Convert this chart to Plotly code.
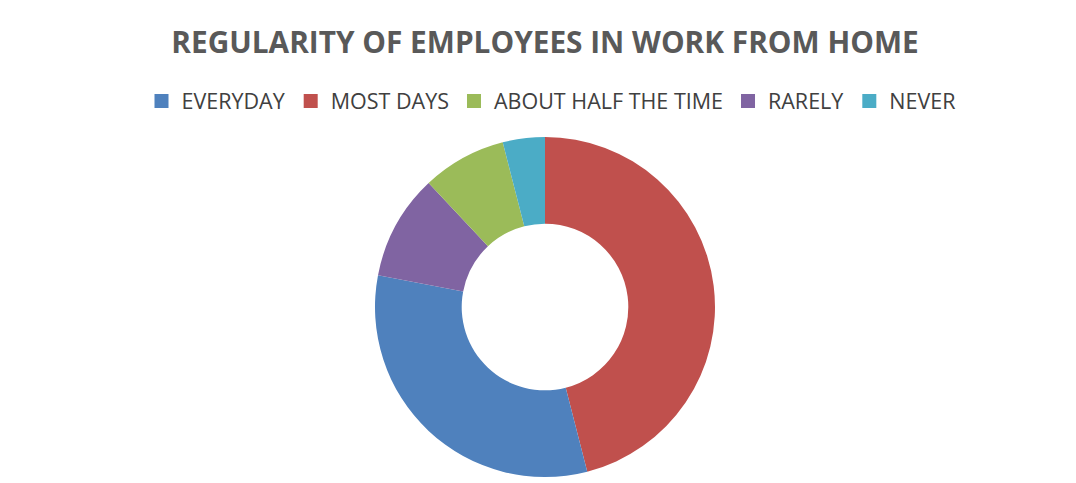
import plotly.graph_objects as go

# Slice order as drawn clockwise from 12 o'clock
slice_labels = ["MOST DAYS", "EVERYDAY", "RARELY", "ABOUT HALF THE TIME", "NEVER"]
slice_values = [46, 32, 10, 8, 4]

# Legend order
legend_labels = ["EVERYDAY", "MOST DAYS", "ABOUT HALF THE TIME", "RARELY", "NEVER"]

palette = {
    "EVERYDAY": "#4F81BD",
    "MOST DAYS": "#C0504D",
    "ABOUT HALF THE TIME": "#9BBB59",
    "RARELY": "#8064A2",
    "NEVER": "#4BACC6",
}

W, H = 1076, 483
cx, cy, r = 545, 307, 170

fig = go.Figure()
fig.add_trace(go.Pie(
    labels=slice_labels,
    values=slice_values,
    hole=0.49,
    sort=False,
    direction="clockwise",
    rotation=0,
    textinfo="none",
    marker=dict(colors=[palette[l] for l in slice_labels], line=dict(width=0)),
    showlegend=False,
    domain=dict(x=[(cx - r) / W, (cx + r) / W], y=[(H - cy - r) / H, (H - cy + r) / H]),
))

for lab in legend_labels:
    fig.add_trace(go.Scatter(
        x=[None], y=[None], mode="markers", name=lab,
        marker=dict(symbol="square", size=14, color=palette[lab]),
    ))

fig.update_layout(
    width=W, height=H,
    margin=dict(l=0, r=0, t=0, b=0),
    paper_bgcolor="white", plot_bgcolor="white",
    xaxis=dict(visible=False), yaxis=dict(visible=False),
    title=dict(
        text="<b>REGULARITY OF EMPLOYEES IN WORK FROM HOME</b>",
        x=545 / W, xanchor="center", y=1 - 43 / H, yanchor="middle",
        font=dict(family="Open Sans", size=29.8, color="#595959"),
    ),
    legend=dict(
        orientation="h", x=551 / W, xanchor="center", y=1 - 101 / H, yanchor="middle",
        font=dict(family="Open Sans", size=21.5, color="#404040"),
        itemsizing="trace", itemwidth=30, traceorder="normal",
    ),
)

fig.write_html("out.html")
